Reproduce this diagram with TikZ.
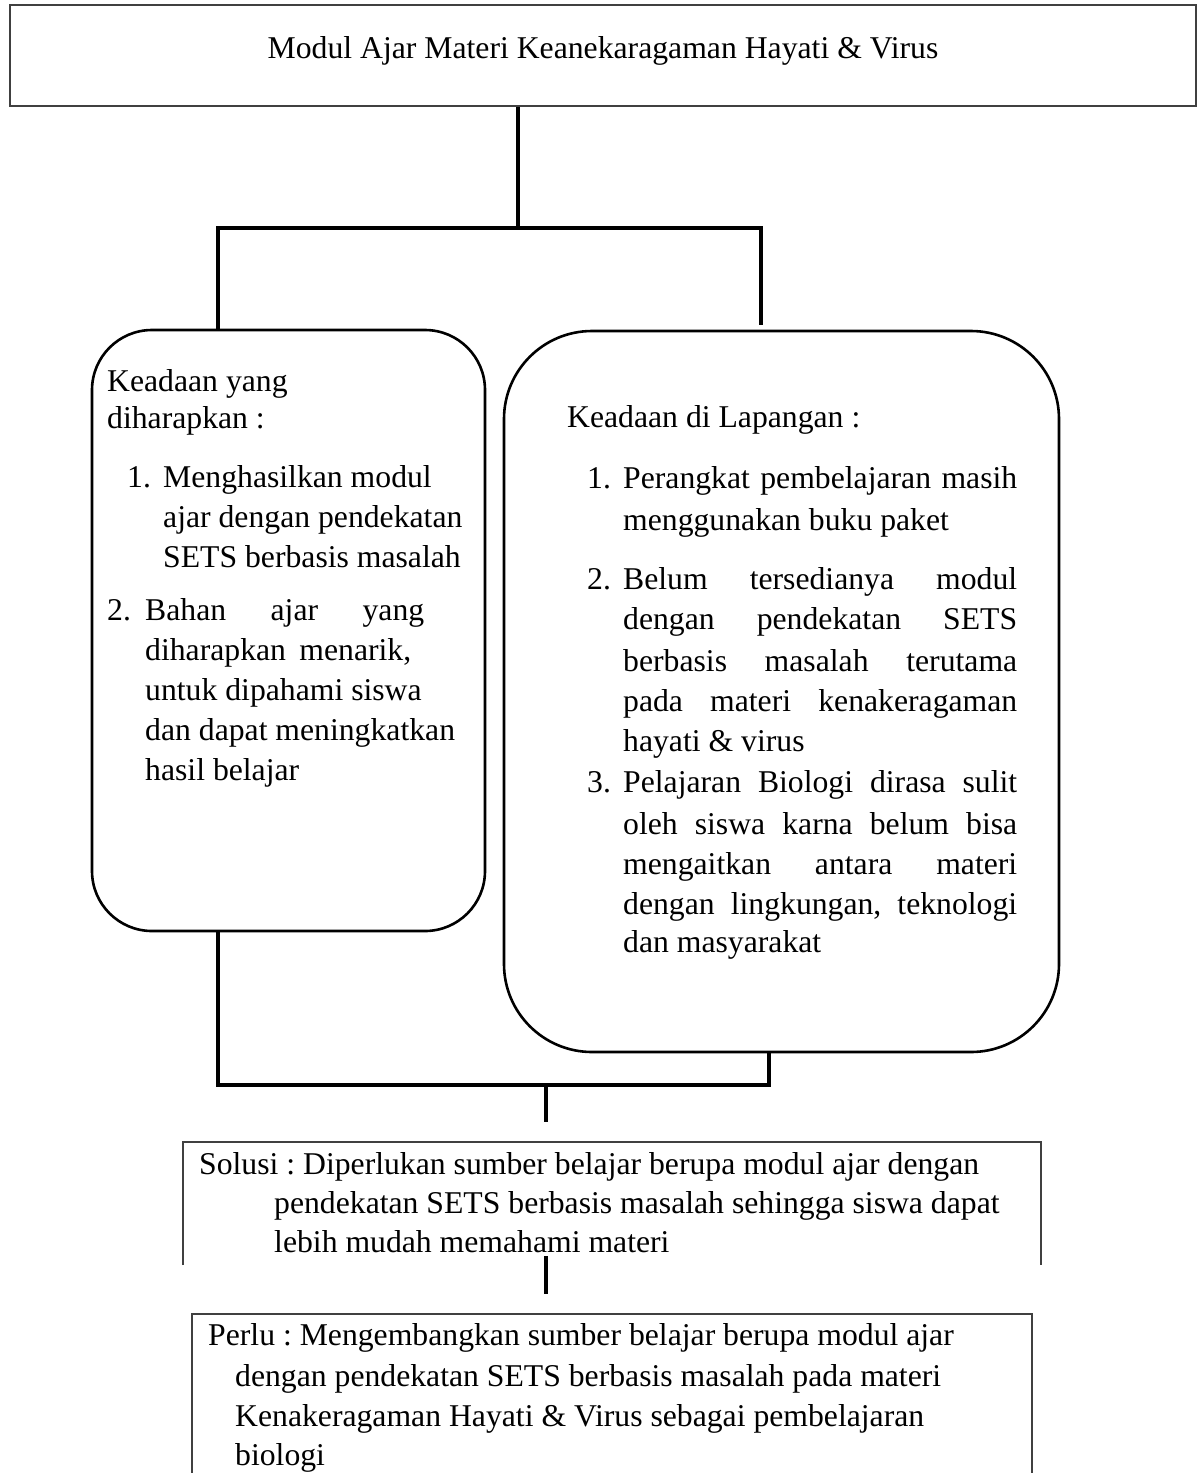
\documentclass[tikz,border=0pt]{standalone}
\usepackage{fontspec}
\setmainfont{Liberation Serif}
\frenchspacing
\begin{document}
\begin{tikzpicture}[x=1pt,y=-1pt,
  txt/.style={anchor=base west, inner sep=0pt, font=\fontsize{31.7}{40}\selectfont\frenchspacing},
  plainbox/.style={draw=black!75, line width=1.6pt},
  roundbox/.style={draw=black, line width=2.6pt, rounded corners=#1, inner sep=0pt},
  conn/.style={draw=black, line width=3.8pt},
  frame/.style={inner sep=0pt}
]
\useasboundingbox[fill=white] (0,0) rectangle (1204,1473);

% title box
\node[frame, plainbox, minimum width=1186pt, minimum height=101pt] (title) at (603,55.5) {};
\node[txt, anchor=base] (titletext) at (603,58) {Modul Ajar Materi Keanekaragaman Hayati \& Virus};

% two rounded boxes
\node[roundbox=60pt, minimum width=393pt, minimum height=601pt] (lbox) at (288.5,630.5) {};
\node[roundbox=88pt, minimum width=555pt, minimum height=721pt] (rbox) at (781.5,691.5) {};

% lower boxes (open at the bottom)
\node[frame, minimum width=858pt, minimum height=123pt] (sol) at (612,1203.5) {};
\draw[plainbox] (sol.south west) -- (sol.north west) -- (sol.north east) -- (sol.south east);
\node[frame, minimum width=840pt, minimum height=159pt] (perlu) at (612,1393.5) {};
\draw[plainbox] (perlu.south west) -- (perlu.north west) -- (perlu.north east) -- (perlu.south east);

% connectors
\coordinate (jt) at (518,228);
\coordinate (jl) at (218,228);
\coordinate (jr) at (761,228);
\coordinate (jrend) at (761,325);
\draw[conn] (title.south -| jt) -- (jt);
\draw[conn] (lbox.north -| jl) -- (jl) -- (jr) -- (jrend);

\coordinate (jbl) at (218,1085);
\coordinate (jbr) at (769,1085);
\coordinate (jbc) at (546,1085);
\coordinate (jbcend) at (546,1122);
\draw[conn] (lbox.south -| jbl) -- (jbl) -- (jbr) -- (rbox.south -| jbr);
\draw[conn] (jbc) -- (jbcend);

% left box text
\node[txt] (l1) at (107,391) {Keadaan yang};
\node[txt] (l2) at (107,428) {diharapkan :};
\node[txt] (l3n) at (127,487) {1.};
\node[txt] (l3) at (163,487) {Menghasilkan modul};
\node[txt] (l4) at (163,527) {ajar dengan pendekatan};
\node[txt] (l5) at (163,567) {SETS berbasis masalah};
\node[txt] (l6n) at (107,620) {2.};
\node[txt] (l6) at (145,620) {\makebox[279pt][s]{Bahan ajar yang}};
\node[txt] (l7) at (145,660) {\makebox[266pt][s]{diharapkan menarik,}};
\node[txt] (l8) at (145,700) {untuk dipahami siswa};
\node[txt] (l9) at (145,740) {dan dapat meningkatkan};
\node[txt] (l10) at (145,780) {hasil belajar};

% right box text
\node[txt] (r0) at (567,427) {Keadaan di Lapangan :};
\node[txt] (r1n) at (587,488) {1.};
\node[txt] (r1) at (623,488) {\makebox[394pt][s]{Perangkat pembelajaran masih}};
\node[txt] (r2) at (623,530) {menggunakan buku paket};
\node[txt] (r3n) at (587,589) {2.};
\node[txt] (r3) at (623,589) {\makebox[394pt][s]{Belum tersedianya modul}};
\node[txt] (r4) at (623,629) {\makebox[394pt][s]{dengan pendekatan SETS}};
\node[txt] (r5) at (623,671) {\makebox[394pt][s]{berbasis masalah terutama}};
\node[txt] (r6) at (623,711) {\makebox[394pt][s]{pada materi kenakeragaman}};
\node[txt] (r7) at (623,751) {hayati \& virus};
\node[txt] (r8n) at (587,792) {3.};
\node[txt] (r8) at (623,792) {\makebox[394pt][s]{Pelajaran Biologi dirasa sulit}};
\node[txt] (r9) at (623,834) {\makebox[394pt][s]{oleh siswa karna belum bisa}};
\node[txt] (r10) at (623,874) {\makebox[394pt][s]{mengaitkan antara materi}};
\node[txt] (r11) at (623,914) {\makebox[394pt][s]{dengan lingkungan, teknologi}};
\node[txt] (r12) at (623,952) {dan masyarakat};

% solution text
\node[txt] (s1) at (199,1174) {Solusi : Diperlukan sumber belajar berupa modul ajar dengan};
\node[txt] (s2) at (274,1213) {pendekatan SETS berbasis masalah sehingga siswa dapat};
\node[txt] (s3) at (274,1252) {lebih mudah memahami materi};

% need text
\node[txt] (p1) at (208,1345) {Perlu : Mengembangkan sumber belajar berupa modul ajar};
\node[txt] (p2) at (235,1386) {dengan pendekatan SETS berbasis masalah pada materi};
\node[txt] (p3) at (235,1426) {Kenakeragaman Hayati \& Virus sebagai pembelajaran};
\node[txt] (p4) at (235,1465) {biologi};

% link between the two lower boxes
\coordinate (js1) at (546,1256);
\coordinate (js2) at (546,1294);
\draw[conn] (js1) -- (js2);
\end{tikzpicture}
\end{document}
